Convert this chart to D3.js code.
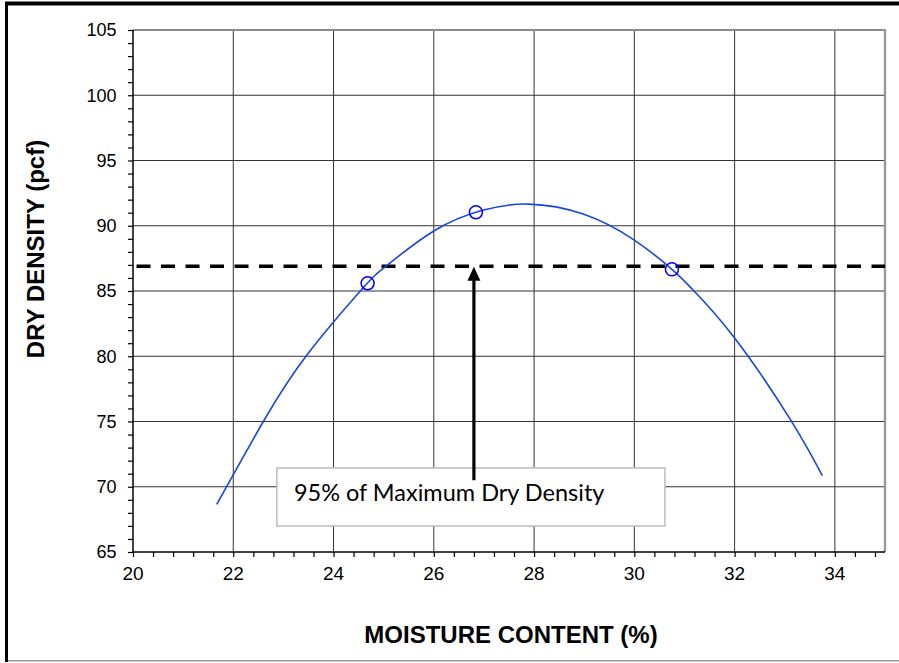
<!DOCTYPE html>
<html><head><meta charset="utf-8">
<script src="https://cdn.jsdelivr.net/npm/d3@7"></script>
<style>html,body{margin:0;padding:0;background:#fff;}svg{display:block;}</style>
</head><body>
<svg id="c" width="899" height="663"></svg>
<script>
// ---- data ----
const xTicks = [20, 22, 24, 26, 28, 30, 32, 34];
const yTicks = [65, 70, 75, 80, 85, 90, 95, 100, 105];
const pointMoisture = [24.68, 26.84, 30.75];
const pointDensity = [85.59, 91.03, 86.66];
const curveMoisture = [21.67, 22.6, 23.48, 24.57, 25.03, 26.0, 26.99, 27.89, 28.98, 30.0, 30.75, 31.14, 32.0, 33.12, 33.75];
const curveDensity  = [68.65, 75.0, 80.15, 85.15, 86.85, 89.6, 91.2, 91.66, 90.9, 88.9, 86.66, 85.2, 81.4, 75.1, 70.85];
const limitMoisture = [20.07, 35];
const limitDensity = [86.9, 86.9];
const arrowMoisture = [26.8, 26.8];
const arrowDensity = [70.5, 86.85];
const noteText = "95% of Maximum Dry Density";
const xTitle = "MOISTURE CONTENT (%)";
const yTitle = "DRY DENSITY (pcf)";

const svg = d3.select("#c");
const x = d3.scaleLinear([20, 35], [133, 885]);
const y = d3.scaleLinear([65, 105], [552, 30]);

// outer frame
svg.append("line").attr("x1", 5).attr("x2", 899).attr("y1", 3.5).attr("y2", 3.5).attr("stroke", "#000").attr("stroke-width", 4);
svg.append("line").attr("x1", 6.5).attr("x2", 6.5).attr("y1", 2).attr("y2", 662).attr("stroke", "#000").attr("stroke-width", 3);
svg.append("line").attr("x1", 8).attr("x2", 899).attr("y1", 660.8).attr("y2", 660.8).attr("stroke", "#999").attr("stroke-width", 1.5);

// grid
const g = svg.append("g");
g.selectAll(".gx").data(xTicks.filter(d => d > 20)).join("line")
  .attr("x1", d => x(d)).attr("x2", d => x(d)).attr("y1", y(105)).attr("y2", y(65))
  .attr("stroke", "#333").attr("stroke-width", 1);
g.selectAll(".gy").data(yTicks.filter(d => d > 65 && d < 105)).join("line")
  .attr("x1", x(20)).attr("x2", x(35)).attr("y1", d => y(d)).attr("y2", d => y(d))
  .attr("stroke", "#333").attr("stroke-width", 1);
// top and right border (gray)
svg.append("line").attr("x1", x(20)).attr("x2", x(35) + 1).attr("y1", y(105)).attr("y2", y(105)).attr("stroke", "#8c8c8c").attr("stroke-width", 2.2);
svg.append("line").attr("x1", x(35)).attr("x2", x(35)).attr("y1", y(105) - 1).attr("y2", y(65)).attr("stroke", "#999").attr("stroke-width", 2.4);

// axes
const xAxis = d3.axisBottom(x).tickValues(d3.range(20, 35.01, 0.4)).tickSize(5).tickFormat("");
const xa = svg.append("g").attr("transform", `translate(0,${y(65)})`).call(xAxis);
xa.select(".domain").attr("stroke", "#000").attr("stroke-width", 1.5).attr("d", `M${x(20)},0H${x(35)}`);
xa.selectAll(".tick line").attr("stroke", "#000").attr("stroke-width", 1.2);
svg.append("g").selectAll("text").data(xTicks).join("text")
  .attr("x", d => x(d)).attr("y", 580).attr("text-anchor", "middle")
  .attr("font-family", "Liberation Sans, Arial, sans-serif").attr("font-size", 19).attr("fill", "#000")
  .text(d => d);

const yAxis = d3.axisLeft(y).tickValues(d3.range(65, 105.01, 1)).tickSize(5).tickFormat("");
const ya = svg.append("g").attr("transform", `translate(${x(20)},0)`).call(yAxis);
ya.select(".domain").attr("stroke", "#000").attr("stroke-width", 1.5).attr("d", `M0,${y(105)}V${y(65)}`);
ya.selectAll(".tick line").attr("stroke", "#000").attr("stroke-width", 1.2);
svg.append("g").selectAll("text").data(yTicks).join("text")
  .attr("x", 116.5).attr("y", d => y(d)).attr("dy", "0.36em").attr("text-anchor", "end")
  .attr("font-family", "Liberation Sans, Arial, sans-serif").attr("font-size", 18).attr("fill", "#000")
  .text(d => d);

// titles
svg.append("text").attr("x", 511).attr("y", 643).attr("text-anchor", "middle")
  .attr("font-family", "Liberation Sans, Arial, sans-serif").attr("font-weight", "bold").attr("font-size", 24)
  .text(xTitle);
svg.append("text").attr("transform", "translate(44,249) rotate(-90)").attr("text-anchor", "middle")
  .attr("font-family", "Liberation Sans, Arial, sans-serif").attr("font-weight", "bold").attr("font-size", 24)
  .text(yTitle);

// dashed limit line
const lineGen = d3.line().x(d => x(d[0])).y(d => y(d[1]));
svg.append("path").datum(d3.zip(limitMoisture, limitDensity)).attr("d", lineGen)
  .attr("stroke", "#000").attr("stroke-width", 3.5).attr("stroke-dasharray", "14,10.5").attr("fill", "none");

// fitted curve
svg.append("path").datum(d3.zip(curveMoisture, curveDensity))
  .attr("d", d3.line().x(d => x(d[0])).y(d => y(d[1])).curve(d3.curveNatural))
  .attr("stroke", "#1846e0").attr("stroke-width", 1.6).attr("fill", "none");

// points
svg.append("g").selectAll("circle").data(d3.zip(pointMoisture, pointDensity)).join("circle")
  .attr("cx", d => x(d[0])).attr("cy", d => y(d[1])).attr("r", 6.5)
  .attr("fill", "none").attr("stroke", "#0000ff").attr("stroke-width", 1.5);

// annotation box
const bx0 = x(22.87), bx1 = x(30.61), by0 = y(71.44), by1 = y(66.99);
svg.append("rect").attr("x", bx0).attr("y", by0).attr("width", bx1 - bx0).attr("height", by1 - by0)
  .attr("fill", "#fff").attr("stroke", "#bcbcbc").attr("stroke-width", 1.5);
svg.append("text").attr("x", bx0 + 17).attr("y", by0 + 33.5)
  .attr("font-family", "Lato, Carlito, Calibri, sans-serif").attr("font-size", 23.5).attr("fill", "#000")
  .text(noteText);

// arrow
const ax = x(arrowMoisture[0]), aBot = y(arrowDensity[0]), aTop = y(arrowDensity[1]);
svg.append("line").attr("x1", ax).attr("x2", ax).attr("y1", aBot).attr("y2", aTop + 10)
  .attr("stroke", "#000").attr("stroke-width", 3.2);
svg.append("path").attr("d", `M${ax},${aTop}L${ax - 6.5},${aTop + 14}L${ax + 6.5},${aTop + 14}Z`).attr("fill", "#000");
</script>
</body></html>
